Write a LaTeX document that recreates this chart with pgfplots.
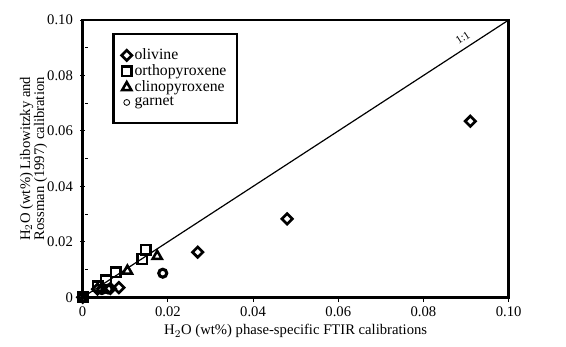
\documentclass[border=0pt]{standalone}
\usepackage{pgfplots}
\pgfplotsset{compat=1.18}
\usepackage{fontspec}
\setmainfont{Liberation Serif}
\begin{document}
\fontsize{11}{12.6}\selectfont
\begin{tikzpicture}[x=1pt,y=1pt]
\begin{axis}[name=ax,
  scale only axis, width=319.5pt, height=208pt,
  xmin=0, xmax=0.1, ymin=0, ymax=0.1,
  xtick={0,0.02,0.04,0.06,0.08,0.1},
  xticklabels={0,0.02,0.04,0.06,0.08,0.10},
  ytick={0,0.02,0.04,0.06,0.08,0.1},
  yticklabels={0,0.02,0.04,0.06,0.08,0.10},
  minor ytick={0.01,0.03,0.05,0.07,0.09},
  xtick pos=bottom, ytick pos=left,
  tick align=outside,
  major tick length=3.5pt, minor tick length=2.5pt,
  y tick style={xshift=1.75pt},
  minor y tick style={xshift=2.5pt},
  tick style={black, line width=0.7pt},
  axis line style={line width=1.8pt},
  every tick label/.append style={font=\fontsize{11}{12.6}\selectfont},
  /pgf/number format/assume math mode=true,
  xlabel={H$_2$O (wt\%) phase-specific FTIR calibrations},
  ylabel={\shortstack{H$_2$O (wt\%) Libowitzky and\\[-2.5pt]Rossman (1997) calibration}},
  xlabel style={font=\fontsize{11}{12.6}\selectfont, yshift=2pt},
  ylabel style={font=\fontsize{11}{12.6}\selectfont, yshift=-7.5pt},
  clip=false,
  legend style={at={(0.07,0.953)}, anchor=north west, draw=black, line width=1.6pt,
    font=\fontsize{11.8}{12.5}\selectfont, inner xsep=6pt, inner ysep=9pt,
    row sep=-1.8pt, cells={anchor=west}, /tikz/every even column/.style={column sep=-1.5pt}},
  legend cell align=left,
  legend image code/.code={\draw[#1] (0.22em,0) -- plot coordinates {(0.22em,0)};},
]
\addplot[black, line width=0.9pt, forget plot] coordinates {(0,0) (0.1,0.1)};
\node[rotate=33, anchor=south, inner sep=4.5pt, font=\fontsize{8.5}{9}\selectfont] at (axis cs:0.0905,0.0905) {1:1};

\addplot[only marks, mark=square, mark options={rotate=45}, mark size=2.75pt, black, line width=2pt]
coordinates {(0,0) (0.0035,0.003) (0.0065,0.0032) (0.0085,0.0035) (0.027,0.0163) (0.048,0.0283) (0.091,0.0635)};
\addlegendentry{olivine}
\addplot[only marks, mark=square, mark size=3.6pt, black, line width=1.8pt]
coordinates {(0,0) (0.0035,0.004) (0.0055,0.0062) (0.0078,0.0091) (0.014,0.0138) (0.0148,0.0172)};
\addlegendentry{orthopyroxene}
\addplot[only marks, mark=triangle, mark size=4pt, black, line width=1.9pt]
coordinates {(0.0105,0.0095) (0.0175,0.0148)};
\addlegendentry{clinopyroxene}
\addplot[only marks, mark=o, mark size=3pt, black, line width=2.3pt,
  legend image code/.code={\draw[black, line width=0.6pt] (0.22em,0) circle (2.2pt);}]
coordinates {(0,0) (0.0045,0.0028) (0.006,0.003) (0.0188,0.0087)};
\addlegendentry{garnet}
\end{axis}
\pgfresetboundingbox
\path[use as bounding box] ([shift={(-62pt,-37pt)}]ax.south west) rectangle ([shift={(43pt,15pt)}]ax.north east);
\end{tikzpicture}
\end{document}
